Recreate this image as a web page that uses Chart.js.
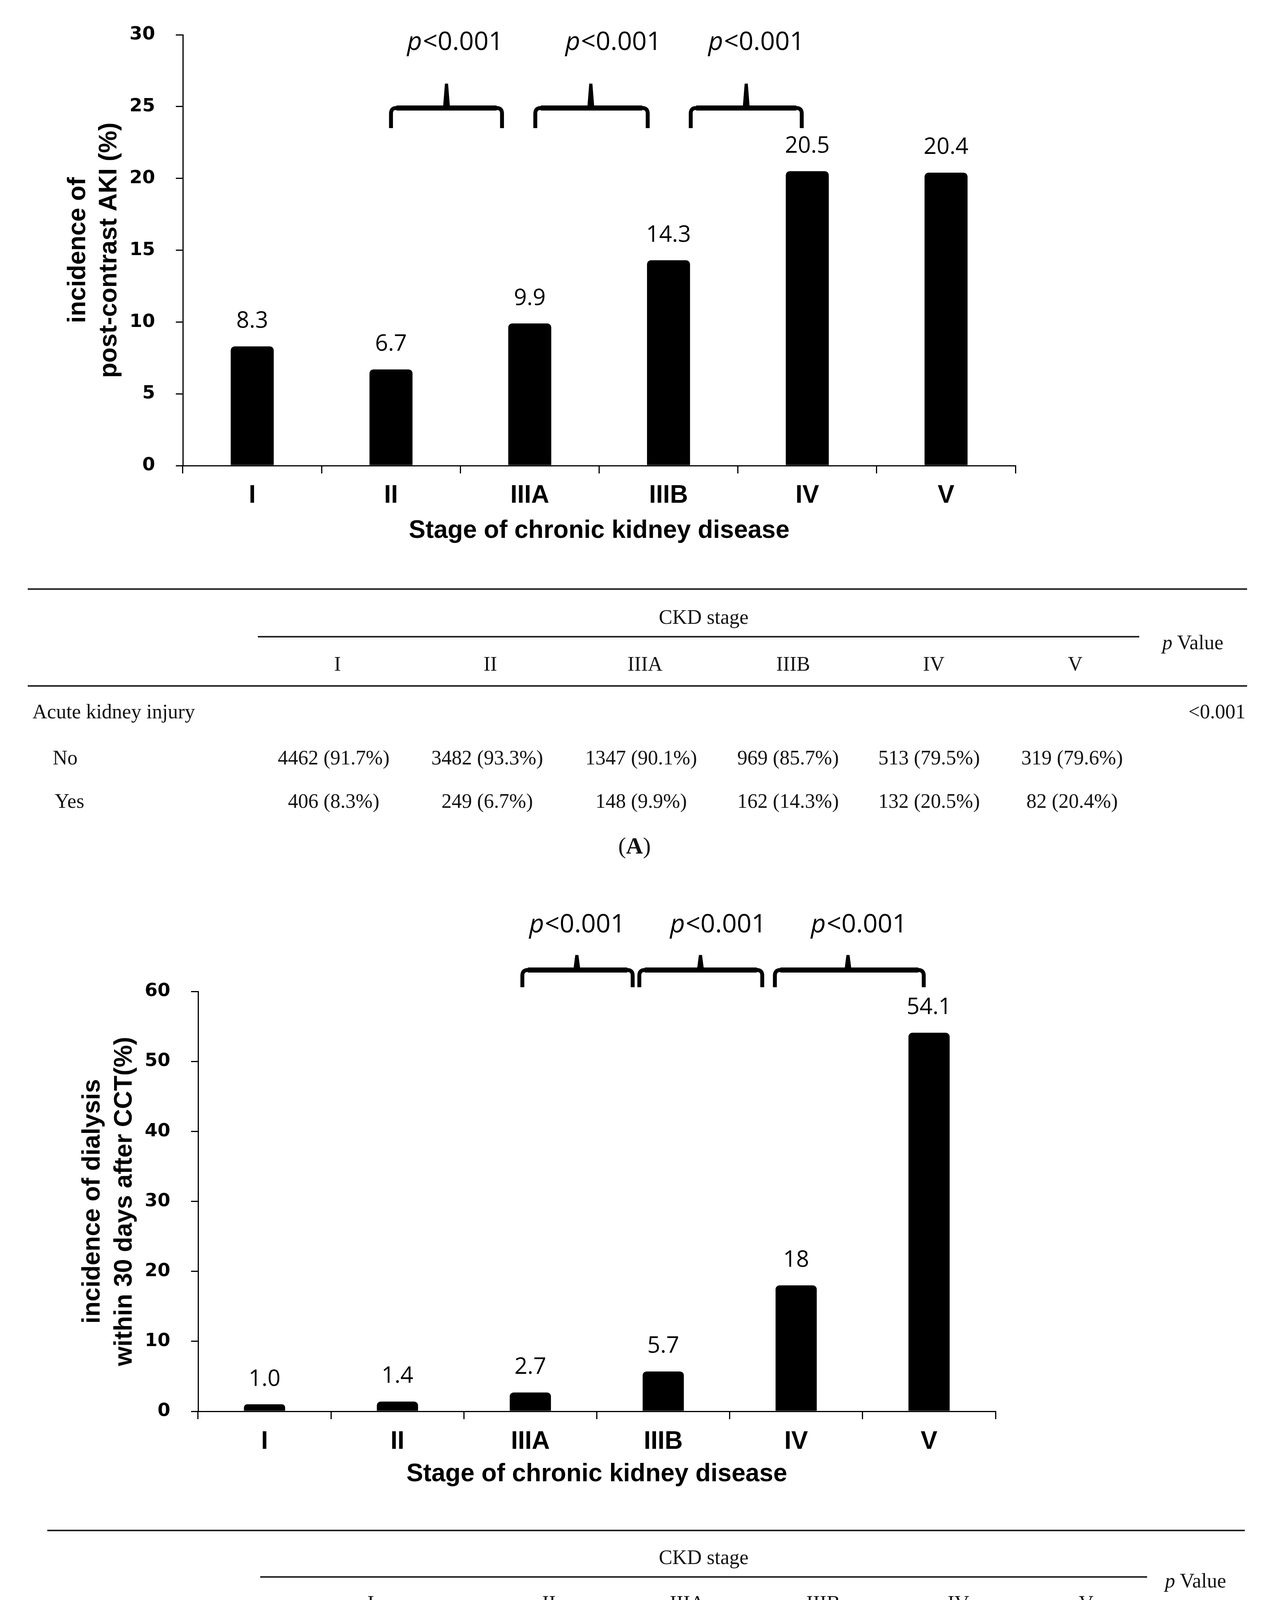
<!DOCTYPE html>
<html>
<head>
<meta charset="utf-8">
<title>Post-contrast AKI and dialysis by CKD stage</title>
<script src="https://cdn.jsdelivr.net/npm/chart.js@4.4.1/dist/chart.umd.min.js"></script>
<style>
  html, body { margin: 0; padding: 0; background: #fff; }
  #page { position: relative; width: 3248px; height: 4663px; background: #fff; overflow: hidden; }
  canvas { position: absolute; left: 0; }
  .t { position: absolute; font-family: "Liberation Serif", "Times New Roman", serif; font-size: 52px; line-height: 52px; color: #111; white-space: nowrap; }
  .rule { position: absolute; height: 4px; background: #222; }
</style>
</head>
<body>
<div id="page">
  <canvas id="chartA" width="2700" height="1450" style="top:0;width:2700px;height:1450px"></canvas>
  <canvas id="chartB" width="2700" height="1600" style="top:2250px;width:2700px;height:1600px"></canvas>
</div>
<script>
// data
const stages = ['I', 'II', 'IIIA', 'IIIB', 'IV', 'V'];

const akiRates = [8.3, 6.7, 9.9, 14.3, 20.5, 20.4];
const akiLabels = ['8.3', '6.7', '9.9', '14.3', '20.5', '20.4'];
const akiNo = ['4462 (91.7%)', '3482 (93.3%)', '1347 (90.1%)', '969 (85.7%)', '513 (79.5%)', '319 (79.6%)'];
const akiYes = ['406 (8.3%)', '249 (6.7%)', '148 (9.9%)', '162 (14.3%)', '132 (20.5%)', '82 (20.4%)'];

const dialysisRates = [1.0, 1.4, 2.7, 5.7, 18, 54.1];
const dialysisLabels = ['1.0', '1.4', '2.7', '5.7', '18', '54.1'];
const dialNo = ['4820 (99.0%)', '3677 (98.6%)', '1455 (97.3%)', '1066 (94.3%)', '529 (82.0%)', '184 (45.9%)'];
const dialYes = ['48 (1.0%)', '54 (1.4%)', '40 (2.7%)', '65 (5.7%)', '116 (18.0%)', '217 (54.1%)'];

const pText = '<0.001';

const SANS = '"Liberation Sans", Arial, sans-serif';
const LABEL_FONT = '"Open Sans", "Liberation Sans", sans-serif';

// brackets over neighbouring stages, in category / value units
const bracesA = [
  { from: 1.00, to: 1.80, peak: 1.40, text: 1.46 },
  { from: 2.04, to: 2.85, peak: 2.44, text: 2.60 },
  { from: 3.16, to: 3.96, peak: 3.56, text: 3.63 }
];
const bracesB = [
  { from: 1.94, to: 2.77, peak: 2.35, text: 2.35 },
  { from: 2.82, to: 3.745, peak: 3.28, text: 3.41 },
  { from: 3.84, to: 4.96, peak: 4.39, text: 4.47 }
];

const marks = {
  id: 'marks',
  afterDatasetsDraw(chart, args, o) {
    const ctx = chart.ctx;
    const xs = chart.scales.x, ys = chart.scales.y;
    const bars = chart.getDatasetMeta(0).data;
    ctx.save();
    ctx.fillStyle = '#000';
    ctx.strokeStyle = '#000';
    ctx.textAlign = 'center';
    ctx.textBaseline = 'middle';
    ctx.font = '58px ' + LABEL_FONT;
    bars.forEach((bar, i) => ctx.fillText(o.labels[i], bar.x, bar.y - 64));

    const yb = ys.getPixelForValue(o.braceY);
    const ye = ys.getPixelForValue(o.braceEnd);
    const yp = ys.getPixelForValue(o.bracePeak);
    const ty = ys.getPixelForValue(o.textY);
    const r = 14;
    o.braces.forEach(b => {
      const xl = xs.getPixelForValue(b.from);
      const xr = xs.getPixelForValue(b.to);
      const xp = xs.getPixelForValue(b.peak);
      ctx.lineWidth = 10;
      ctx.lineJoin = 'round';
      ctx.beginPath();
      ctx.moveTo(xl, ye);
      ctx.lineTo(xl, yb + r);
      ctx.quadraticCurveTo(xl, yb, xl + r, yb);
      ctx.lineTo(xr - r, yb);
      ctx.quadraticCurveTo(xr, yb, xr, yb + r);
      ctx.lineTo(xr, ye);
      ctx.stroke();
      ctx.lineWidth = 13;
      ctx.beginPath();
      ctx.moveTo(xl + r, yb);
      ctx.lineTo(xr - r, yb);
      ctx.stroke();
      // thin spike in the middle of the brace
      ctx.beginPath();
      ctx.moveTo(xp - 9, yb);
      ctx.lineTo(xp - 4, yp);
      ctx.lineTo(xp + 4, yp);
      ctx.lineTo(xp + 9, yb);
      ctx.closePath();
      ctx.fill();

      const tx = xs.getPixelForValue(b.text);
      ctx.font = 'italic 66px ' + LABEL_FONT;
      const wp = ctx.measureText('p').width;
      ctx.font = '66px ' + LABEL_FONT;
      const wr = ctx.measureText(pText).width;
      const left = tx - (wp + wr) / 2;
      ctx.textAlign = 'left';
      ctx.font = 'italic 66px ' + LABEL_FONT;
      ctx.fillText('p', left, ty);
      ctx.font = '66px ' + LABEL_FONT;
      ctx.fillText(pText, left + wp + 2, ty);
      ctx.textAlign = 'center';
    });
    ctx.restore();
  }
};

function makeChart(id, values, labels, yMax, yStep, yTitle, L, braces) {
  return new Chart(document.getElementById(id), {
    type: 'bar',
    data: {
      labels: stages,
      datasets: [{
        data: values,
        backgroundColor: '#000',
        borderRadius: 10,
        barPercentage: 0.31,
        categoryPercentage: 1
      }]
    },
    options: {
      responsive: false,
      animation: false,
      devicePixelRatio: 1,
      layout: { padding: { top: L.top, right: L.right, bottom: 0, left: 0 } },
      plugins: {
        legend: { display: false },
        tooltip: { enabled: false },
        marks: {
          labels: labels, braces: braces,
          braceY: L.braceY, braceEnd: L.braceEnd, bracePeak: L.bracePeak, textY: L.textY
        }
      },
      scales: {
        x: {
          grid: { drawOnChartArea: false, color: '#000', lineWidth: 3, tickLength: 20, offset: true },
          border: { color: '#000', width: 3 },
          ticks: { color: '#000', padding: L.xTickPad, maxRotation: 0, autoSkip: false,
                   font: { family: SANS, size: 64, weight: 'bold' } },
          title: { display: true, text: 'Stage of chronic kidney disease', color: '#000',
                   font: { family: SANS, size: 64, weight: 'bold' },
                   padding: { top: 0, bottom: L.xTitlePad } },
          afterFit: s => { s.height = L.xHeight; }
        },
        y: {
          min: 0, max: yMax,
          grid: { drawOnChartArea: false, color: '#000', lineWidth: 3, tickLength: 18 },
          border: { color: '#000', width: 3 },
          ticks: { stepSize: yStep, color: '#000', padding: 53,
                   font: { family: '"DejaVu Sans", Verdana, sans-serif', size: 47, weight: 'bold' } },
          title: { display: true, text: yTitle, color: '#000',
                   font: { family: SANS, size: 64, weight: 'bold', lineHeight: L.yTitleLH },
                   padding: { top: L.yTitlePad, bottom: 0 } },
          afterFit: s => { s.width = L.yWidth; }
        }
      }
    },
    plugins: [marks]
  });
}

function place(text, x, y, align, extra) {
  const d = document.createElement('div');
  d.className = 't';
  d.innerHTML = text;
  d.style.left = x + 'px';
  d.style.top = y + 'px';
  const tx = align === 'left' ? '0' : align === 'right' ? '-100%' : '-50%';
  d.style.transform = 'translate(' + tx + ', -50%)';
  if (extra) Object.assign(d.style, extra);
  document.getElementById('page').appendChild(d);
}

function rule(y, x0, x1) {
  const d = document.createElement('div');
  d.className = 'rule';
  d.style.top = (y - 2) + 'px';
  d.style.left = x0 + 'px';
  d.style.width = (x1 - x0) + 'px';
  document.getElementById('page').appendChild(d);
}

function buildTable(T) {
  T.rules.forEach(r => rule(r[0], r[1], r[2]));
  place('CKD stage', T.ckd[0], T.ckd[1], 'center');
  place('<i>p</i> Value', T.pv[0], T.pv[1], 'center');
  stages.forEach((s, i) => place(s, T.headX[i], T.headY, 'center'));
  place(T.rowTitle, T.rowX, T.rowY, 'left');
  place('&lt;0.001', T.pRight, T.rowY, 'right');
  place('No', T.noX, T.noY, 'left');
  place('Yes', T.noX + 5, T.yesY, 'left');
  T.no.forEach((v, i) => place(v, T.valX[i], T.noY, 'center'));
  T.yes.forEach((v, i) => place(v, T.valX[i], T.yesY, 'center'));
  place('(<b>' + T.tag + '</b>)', T.tagPos[0], T.tagPos[1], 'center', { fontSize: '60px', lineHeight: '60px' });
}

function draw() {
  makeChart('chartA', akiRates, akiLabels, 30, 5, ['incidence of', 'post-contrast AKI (%)'], {
    top: 89, right: 101, xHeight: 258, yWidth: 468,
    xTickPad: 19, xTitlePad: 52, yTitlePad: 160, yTitleLH: 1.25,
    braceY: 24.9, braceEnd: 23.5, bracePeak: 26.6, textY: 29.45
  }, bracesA);

  makeChart('chartB', dialysisRates, dialysisLabels, 60, 10, ['incidence of dialysis', 'within 30 days after CCT(%)'], {
    top: 288, right: 152, xHeight: 237, yWidth: 507,
    xTickPad: 20, xTitlePad: 37, yTitlePad: 196, yTitleLH: 1.28,
    braceY: 63.06, braceEnd: 60.6, bracePeak: 65.2, textY: 69.5
  }, bracesB);

  buildTable({
    rules: [[1508, 71, 3192], [1630, 660, 2916], [1756, 71, 3192]],
    ckd: [1801, 1580], pv: [3053, 1645],
    headX: [864, 1255, 1651, 2030, 2390, 2752], headY: 1700,
    rowTitle: 'Acute kidney injury', rowX: 83, rowY: 1822, pRight: 3188,
    noX: 135, noY: 1940, yesY: 2051,
    valX: [854, 1247, 1641, 2017, 2378, 2744],
    no: akiNo, yes: akiYes,
    tag: 'A', tagPos: [1624, 2165]
  });

  buildTable({
    rules: [[3918, 121, 3186], [4037, 666, 2936], [4159, 121, 3186]],
    ckd: [1801, 3987], pv: [3060, 4047],
    headX: [949, 1405, 1759, 2107, 2453, 2780], headY: 4104,
    rowTitle: 'Dialysis within 30 days after CCT', rowX: 129, rowY: 4225, pRight: 3181,
    noX: 183, noY: 4337, yesY: 4447,
    valX: [1050, 1407, 1760, 2114, 2441, 2767],
    no: dialNo, yes: dialYes,
    tag: 'B', tagPos: [1621, 4568]
  });
}

document.addEventListener('DOMContentLoaded', draw);
</script>
</body>
</html>
